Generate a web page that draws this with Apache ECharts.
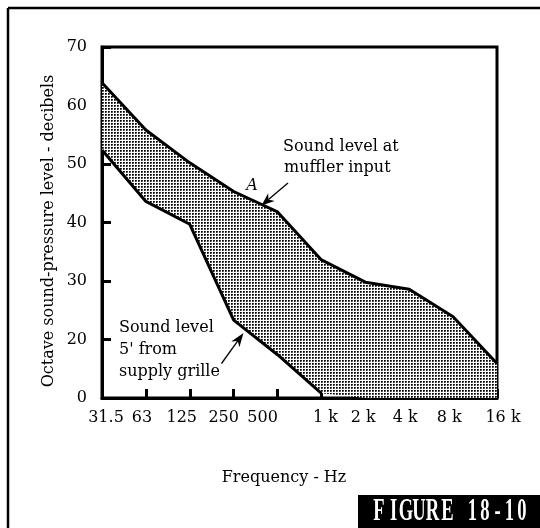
<!DOCTYPE html>
<html><head><meta charset="utf-8">
<script src="https://cdn.jsdelivr.net/npm/echarts@6/dist/echarts.min.js"></script>
<style>html,body{margin:0;padding:0;background:#fff}#c{width:540px;height:528px}</style>
</head><body><div id="c"></div><script>
// ---- data ----
const categories = ['31.5','63','125','250','500','1 k','2 k','4 k','8 k','16 k'];
const upperLevel = [63.9,55.8,50.2,45.3,41.8,33.6,29.8,28.6,23.9,15.9];   // sound level at muffler input
const lowerLevel = [52.4,43.6,39.7,23.3,17.4,10.8,null,null,null,null];   // sound level 5' from supply grille
const yTicks = [10,20,30,40,50,60,70];
const yTickLabels = ['0','20','30','40','50','60','70'];

// ---- rendering ----
const Y_MIN = 10, Y_MAX = 70;
const FONT = 'DejaVu Serif';
const FS = 16;
const baseFill = lowerLevel.map(v => v == null ? Y_MIN : v);
const bandFill = upperLevel.map((v, i) => +(v - baseFill[i]).toFixed(2));

const xLabelShift = [4,-4,-8,-10,-15,4,-2,-4,-4,6];
const rich = {};
xLabelShift.forEach((s, i) => {
  rich['s' + i] = {
    fontFamily: FONT, fontSize: FS, color: '#000',
    padding: s > 0 ? [0, 0, 0, 2 * s] : [0, -2 * s, 0, 0]
  };
});

const pat = document.createElement('canvas');
pat.width = 3; pat.height = 3;
const pc = pat.getContext('2d');
pc.fillStyle = '#fff'; pc.fillRect(0, 0, 3, 3);
pc.fillStyle = '#000'; pc.fillRect(0, 0, 1, 1);
pc.fillStyle = '#333'; pc.fillRect(1, 0, 1, 1); pc.fillRect(0, 1, 1, 1);
pc.fillStyle = '#777'; pc.fillRect(1, 1, 1, 1);

function arrow(x1, y1, x2, y2, headLen, headW) {
  const dx = x2 - x1, dy = y2 - y1, L = Math.hypot(dx, dy);
  const ux = dx / L, uy = dy / L, px = -uy, py = ux;
  const bx = x2 - ux * headLen, by = y2 - uy * headLen;
  const nx = x2 - ux * headLen * 0.7, ny = y2 - uy * headLen * 0.7;
  return [
    { type: 'line', shape: { x1: x1, y1: y1, x2: nx, y2: ny }, style: { stroke: '#000', lineWidth: 1.3 }, z: 20 },
    { type: 'polygon', shape: { points: [[x2, y2], [bx + px * headW, by + py * headW], [nx, ny], [bx - px * headW, by - py * headW]] }, style: { fill: '#000' }, z: 20 }
  ];
}
function txt(t, x, y, opt) {
  return Object.assign({ type: 'text', x: x, y: y, z: 20,
    style: Object.assign({ text: t, fontFamily: FONT, fontSize: FS, fill: '#000', textAlign: 'left', textVerticalAlign: 'middle' }, (opt && opt.style) || {}) },
    opt && opt.extra || {});
}

const figChars = ['F','I','G','U','R','E','1','8','-','1','0'];
const figX = [379,393.5,406,419,432.5,447.5,472.5,485,497.5,509.5,522];
const figText = figChars.map((c, i) => ({
  type: 'text', x: figX[i], y: 512, scaleX: 0.58, z: 30,
  style: { text: c, fontFamily: 'Liberation Sans Narrow', fontWeight: 'bold', fontSize: 32, fill: '#fff', textAlign: 'center', textVerticalAlign: 'middle' }
}));

const chart = echarts.init(document.getElementById('c'), null, { renderer: 'canvas' });
chart.setOption({
  animation: false,
  backgroundColor: '#fff',
  grid: { left: 102, right: 43, top: 47, bottom: 130, show: true, borderColor: '#000', borderWidth: 3, backgroundColor: 'transparent' },
  xAxis: {
    type: 'category', data: categories, boundaryGap: false,
    axisLine: { lineStyle: { color: '#000', width: 3 } },
    axisTick: { inside: true, length: 9, interval: 0, lineStyle: { color: '#000', width: 3 } },
    axisLabel: { margin: 12, interval: 0, hideOverlap: false, formatter: (v, i) => '{s' + i + '|' + v + '}', rich: rich },
    splitLine: { show: false }
  },
  yAxis: {
    type: 'value', min: Y_MIN, max: Y_MAX, interval: 10,
    axisLine: { show: true, lineStyle: { color: '#000', width: 3 } },
    axisTick: { show: true, inside: true, length: 9, lineStyle: { color: '#000', width: 3 } },
    axisLabel: { margin: 15, fontFamily: FONT, fontSize: FS, color: '#000',
      formatter: v => { const k = yTicks.indexOf(v); return k >= 0 ? yTickLabels[k] : ''; } },
    splitLine: { show: false }
  },
  series: [
    { name: 'base', type: 'line', stack: 'band', data: baseFill, symbol: 'none', silent: true,
      lineStyle: { width: 0, opacity: 0 }, z: 1 },
    { name: 'band', type: 'line', stack: 'band', data: bandFill, symbol: 'none', silent: true,
      lineStyle: { width: 0, opacity: 0 }, areaStyle: { color: { image: pat, repeat: 'repeat' }, opacity: 1 }, z: 1 },
    { name: 'Sound level at muffler input', type: 'line', data: upperLevel, symbol: 'none',
      lineStyle: { color: '#000', width: 3 }, z: 5 },
    { name: "Sound level 5' from supply grille", type: 'line', data: lowerLevel, symbol: 'none',
      lineStyle: { color: '#000', width: 3 }, z: 5 }
  ],
  graphic: [].concat(
    [
      { type: 'line', shape: { x1: 8, y1: 8, x2: 540, y2: 8 }, style: { stroke: '#000', lineWidth: 2.5 } },
      { type: 'line', shape: { x1: 8, y1: 8, x2: 8, y2: 528 }, style: { stroke: '#000', lineWidth: 2.5 } },
      txt('Octave sound-pressure level - decibels', 49, 231, { style: { textAlign: 'center' }, extra: { rotation: Math.PI / 2 } }),
      txt('Frequency - Hz', 284, 478, { style: { textAlign: 'center' } }),
      txt('Sound level at', 283, 147),
      txt('muffler input', 284, 167.5),
      txt('A', 252, 186, { style: { textAlign: 'center', fontStyle: 'italic' } }),
      txt('Sound level', 119, 328),
      txt("5' from", 119, 350),
      txt('supply grille', 119, 372),
      { type: 'rect', shape: { x: 358, y: 495, width: 182, height: 33 }, style: { fill: '#000' }, z: 25 }
    ],
    arrow(288, 183, 261.5, 205.5, 13, 5),
    arrow(221.5, 363.5, 243.5, 333, 14, 5),
    figText
  )
});
</script></body></html>
